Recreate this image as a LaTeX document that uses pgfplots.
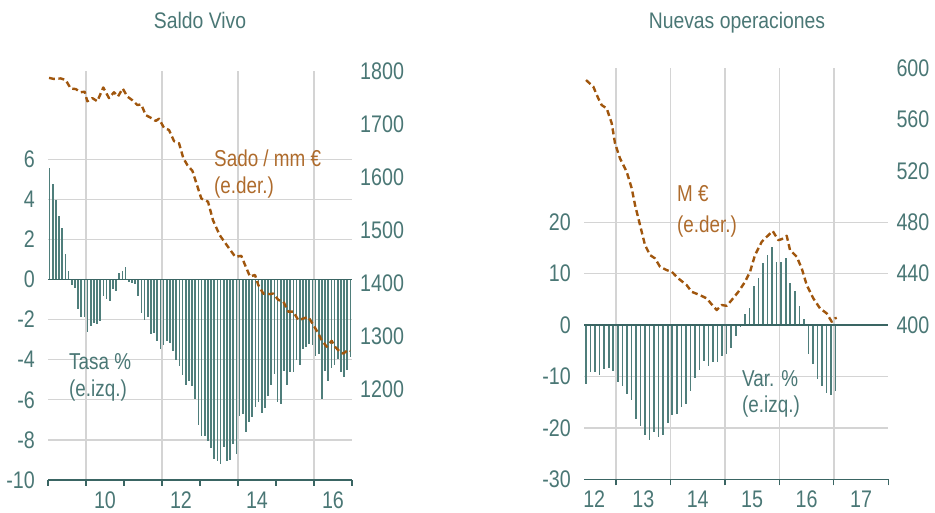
\documentclass[border=0pt]{standalone}
\usepackage{pgfplots}
\pgfplotsset{compat=1.18}
\usepackage{fontspec}
\setmainfont{Liberation Sans}
\newfontfamily\narrowfont[FakeStretch=0.82]{Liberation Sans}
\newfontfamily\titlefont[FakeStretch=0.86]{Liberation Sans}
\definecolor{tealc}{HTML}{4A7775}
\definecolor{tealbar}{HTML}{4F7E7B}
\definecolor{tealdark}{HTML}{3A6563}
\definecolor{brownl}{HTML}{A0560D}
\definecolor{brownt}{HTML}{AE6B2C}
\definecolor{gridc}{HTML}{D4D4D4}
\newcommand\tickfont{\narrowfont\fontsize{24bp}{28bp}\selectfont}
\newcommand\labfont{\narrowfont\fontsize{23bp}{27bp}\selectfont}
\newcommand\titfont{\titlefont\fontsize{22.5bp}{26bp}\selectfont}

\pgfplotsset{
  base/.style={
    scale only axis, anchor=south west,
    tick label style={font=\tickfont, text=tealc},
    ytick style={draw=none},
  },
  lower/.style={
    axis x line*=bottom, axis y line*=left,
    y axis line style={draw=none},
    x axis line style={draw=tealdark, line width=1.5bp},
    tick align=outside, major tick length=6bp, minor tick length=0pt,
    xtick style={draw=tealdark, line width=1.2bp},
    xminorgrids, ymajorgrids,
    grid style={gridc, line width=1.3bp},
    minor grid style={gridc, line width=1.3bp},
    extra x tick style={grid=none, xtick style={draw=none}},
    xticklabel style={anchor=center, yshift=-14bp, inner sep=0pt},
    yticklabel style={anchor=east, xshift=-7bp, inner sep=0pt},
  },
  upper/.style={
    axis x line=none, axis y line*=right, y axis line style={draw=none},
    yticklabel style={anchor=west, xshift=8bp, inner sep=0pt},
  },
}

\pgfplotstableread{
i v
0 5.58
1 4.78
2 3.95
3 3.15
4 2.58
5 1.27
6 0.42
7 -0.27
8 -0.40
9 -1.48
10 -1.88
11 -1.85
12 -2.63
13 -2.30
14 -2.15
15 -2.23
16 -2.05
17 -0.80
18 -0.95
19 -1.07
20 -0.45
21 -0.55
22 0.30
23 0.42
24 0.60
25 -0.10
26 -0.17
27 -0.22
28 -0.80
29 -1.65
30 -2.00
31 -1.87
32 -2.72
33 -2.68
34 -3.08
35 -3.48
36 -3.27
37 -3.05
38 -3.18
39 -3.55
40 -4.02
41 -4.30
42 -4.75
43 -5.25
44 -5.08
45 -5.30
46 -5.97
47 -7.25
48 -7.80
49 -7.83
50 -8.05
51 -8.38
52 -8.97
53 -9.05
54 -9.22
55 -8.33
56 -9.05
57 -9.02
58 -8.22
59 -8.72
60 -6.83
61 -6.72
62 -7.63
63 -7.13
64 -6.88
65 -6.38
66 -6.10
67 -6.68
68 -6.43
69 -5.83
70 -5.27
71 -4.72
72 -6.13
73 -6.20
74 -4.55
75 -5.25
76 -4.63
77 -4.63
78 -4.02
79 -4.25
80 -3.47
81 -3.38
82 -3.22
83 -3.27
84 -3.83
85 -3.72
86 -5.97
87 -4.55
88 -5.05
89 -4.40
90 -4.28
91 -3.95
92 -4.62
93 -4.85
94 -4.50
95 -3.85
}\tasa

\pgfplotstableread{
x v
-0.18 1787
1.39 1785
3.51 1786
5.09 1783
6.67 1767
8.25 1766
9.83 1760
11.09 1761
11.91 1743
13.49 1749
15.07 1743
16.96 1769
18.76 1749
20.34 1760
21.60 1752
23.09 1767
24.54 1752
26.12 1745
27.70 1736
28.96 1737
30.35 1717
31.93 1712
33.51 1706
34.55 1710
36.13 1693
37.71 1689
39.29 1668
40.87 1664
42.23 1636
43.49 1623
45.10 1612
47.91 1560
50.03 1554
51.60 1519
53.72 1491
56.34 1469
58.65 1450
60.54 1452
61.71 1435
63.29 1413
64.87 1416
65.91 1397
67.49 1381
69.61 1380
70.65 1381
72.23 1369
73.81 1366
75.38 1347
76.96 1347
78.54 1331
80.12 1334
81.70 1337
83.28 1322
84.86 1306
85.93 1293
87.51 1281
89.09 1292
90.13 1281
91.71 1271
92.75 1268
94.33 1275
94.87 1273
}\saldo

\pgfplotstableread{
x v
12.449 -11.4
12.532 -9.2
12.616 -9.1
12.699 -9.75
12.782 -8.6
12.866 -8.25
12.949 -8.95
13.032 -11.05
13.116 -11.9
13.199 -13.5
13.282 -14.6
13.366 -18.2
13.449 -19.7
13.532 -21.3
13.616 -22.3
13.699 -20.8
13.782 -21.7
13.866 -21.3
13.949 -19.0
14.032 -17.5
14.116 -17.3
14.199 -15.9
14.282 -15.3
14.366 -12.9
14.449 -10.35
14.532 -8.7
14.616 -7.05
14.699 -7.9
14.782 -7.1
14.866 -7.2
14.949 -6.0
15.032 -5.7
15.116 -4.45
15.199 -2.2
15.282 -0.3
15.366 2.1
15.449 3.4
15.532 7.7
15.616 9.15
15.699 12.0
15.782 13.6
15.866 15.2
15.949 12.3
16.032 12.3
16.116 13.0
16.199 8.25
16.282 6.6
16.366 3.8
16.449 1.1
16.532 -5.6
16.616 -7.5
16.699 -10.4
16.782 -11.9
16.866 -13.2
16.949 -13.6
17.032 -12.9
}\varp

\pgfplotstableread{
x v
12.449 590.7
12.583 585.5
12.675 576.4
12.737 571.2
12.829 568.6
12.921 557.0
12.982 541.4
13.073 529.7
13.196 519.3
13.288 506.4
13.349 493.4
13.441 477.8
13.532 462.3
13.624 454.5
13.716 451.9
13.808 445.4
13.931 442.8
14.023 441.5
14.144 436.3
14.298 431.1
14.390 425.9
14.542 423.3
14.665 420.8
14.757 416.1
14.849 411.7
14.941 415.6
15.033 415.0
15.124 419.5
15.246 425.9
15.369 433.7
15.461 441.5
15.552 454.5
15.675 464.8
15.767 468.7
15.877 473.2
15.980 466.1
16.043 466.9
16.134 469.5
16.195 458.4
16.318 453.2
16.410 444.1
16.502 431.1
16.623 420.8
16.746 413.0
16.869 409.1
16.961 402.6
17.021 405.2
17.053 405.7
}\mill

\begin{document}
\begin{tikzpicture}[x=1bp,y=1bp]
\useasboundingbox (0,0) rectangle (935,513);

% ---------------- Left panel ----------------
\begin{axis}[base, lower,
  at={(48bp,33bp)}, width=304bp, height=409bp,
  xmin=-0.5, xmax=95.5, ymin=-10, ymax=10.4,
  xtick={-0.5,11.5,23.5,35.5,47.5,59.5,71.5,83.5,95.5}, xticklabels={},
  minor xtick={11.5,35.5,59.5,83.5},
  extra x ticks={17.5,41.5,65.5,89.5}, extra x tick labels={10,12,14,16},
  ytick={-10,-8,-6,-4,-2,0,2,4,6}, yticklabels={-10,-8,-6,-4,-2,0,2,4,6},
]
\addplot[ycomb, draw=tealbar, line width=1.6bp, mark=none] table[x=i, y=v] {\tasa};
\addplot[tealdark, line width=1.3bp] coordinates {(-0.5,0) (95.5,0)};
\end{axis}
\begin{axis}[base, upper,
  at={(48bp,33bp)}, width=304bp, height=409bp,
  xmin=-0.5, xmax=95.5, ymin=1030, ymax=1800,
  ytick={1200,1300,1400,1500,1600,1700,1800},
  yticklabels={1200,1300,1400,1500,1600,1700,1800},
]
\addplot[brownl, line width=2.4bp, dash pattern=on 6bp off 3.5bp, line join=round] table[x=x, y=v] {\saldo};
\end{axis}

% ---------------- Right panel ----------------
\begin{axis}[base, lower,
  at={(584bp,33.7bp)}, width=304.3bp, height=411.2bp,
  xmin=12.412, xmax=18, ymin=-30, ymax=50,
  xtick={13,14,15,16,17,18}, xticklabels={},
  minor xtick={13,14,15,16,17},
  extra x ticks={12.6,13.5,14.5,15.5,16.5,17.5}, extra x tick labels={12,13,14,15,16,17},
  ytick={-30,-20,-10,0,10,20}, yticklabels={-30,-20,-10,0,10,20},
]
\addplot[ycomb, draw=tealbar, line width=1.6bp, mark=none] table[x=x, y=v] {\varp};
\addplot[tealdark, line width=1.3bp] coordinates {(12.412,0) (18,0)};
\end{axis}
\begin{axis}[base, upper,
  at={(584bp,33.7bp)}, width=304.3bp, height=411.2bp,
  xmin=12.412, xmax=18, ymin=280, ymax=600,
  ytick={400,440,480,520,560,600},
  yticklabels={400,440,480,520,560,600},
]
\addplot[brownl, line width=2.4bp, dash pattern=on 6bp off 3.5bp, line join=round] table[x=x, y=v] {\mill};
\end{axis}

% ---------------- Titles and labels ----------------
\node[anchor=base, text=tealc, font=\titfont, inner sep=0pt] at (200,484) {Saldo Vivo};
\node[anchor=base, text=tealc, font=\titfont, inner sep=0pt] at (737,484) {Nuevas operaciones};

\node[anchor=base west, text=brownt, font=\labfont, inner sep=0pt] at (214,346) {Sado / mm €};
\node[anchor=base west, text=brownt, font=\labfont, inner sep=0pt] at (214,319.5) {(e.der.)};
\node[anchor=base west, text=tealc, font=\labfont, inner sep=0pt] at (69,143) {Tasa \%};
\node[anchor=base west, text=tealc, font=\labfont, inner sep=0pt] at (69,116) {(e.izq.)};
\node[anchor=base west, text=brownt, font=\labfont, inner sep=0pt] at (677,311) {M €};
\node[anchor=base west, text=brownt, font=\labfont, inner sep=0pt] at (677,280) {(e.der.)};
\node[anchor=base west, text=tealc, font=\labfont, inner sep=0pt] at (742,126) {Var. \%};
\node[anchor=base west, text=tealc, font=\labfont, inner sep=0pt] at (742,100) {(e.izq.)};
\end{tikzpicture}
\end{document}
